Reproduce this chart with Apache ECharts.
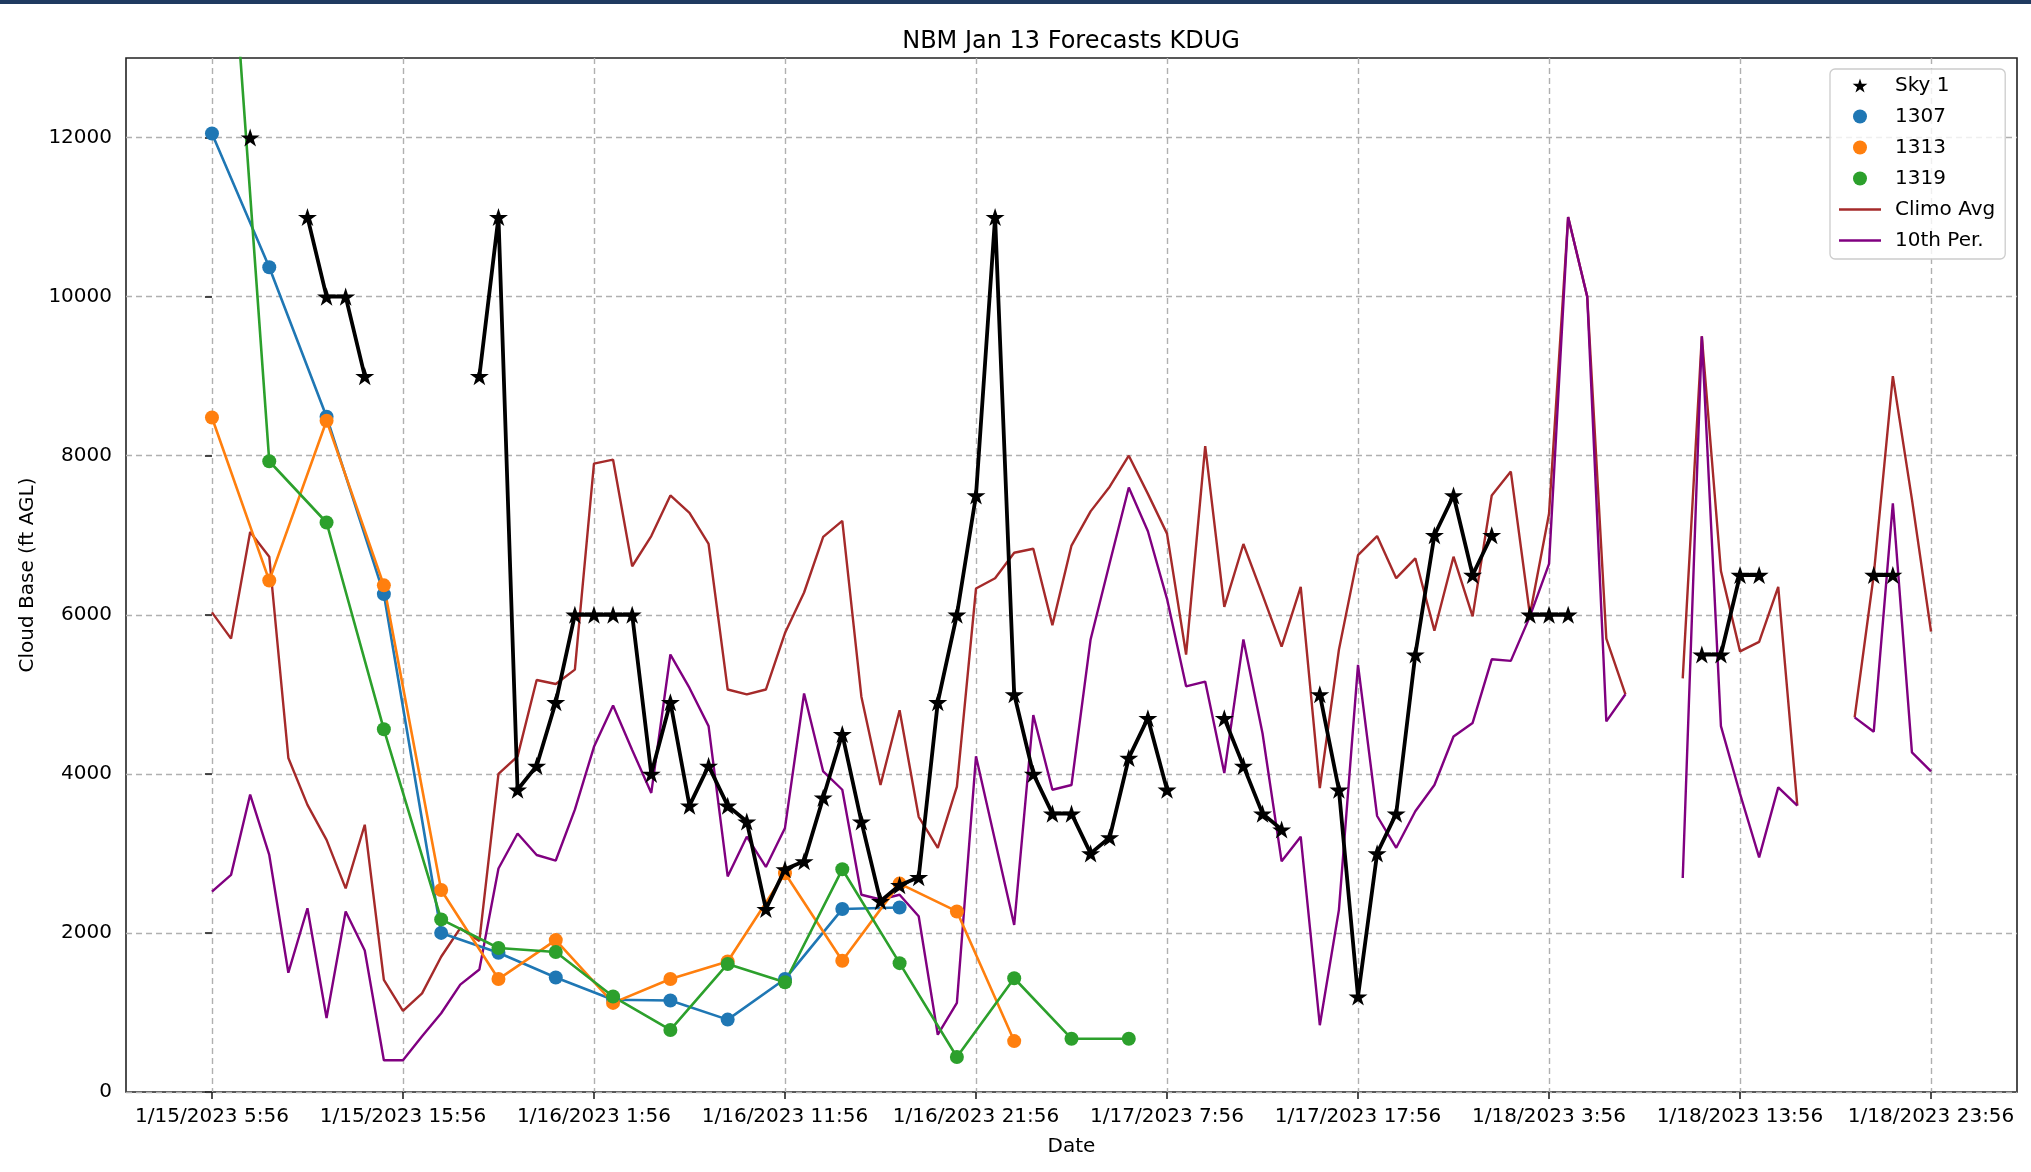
<!DOCTYPE html>
<html>
<head>
<meta charset="utf-8">
<script src="https://cdn.jsdelivr.net/npm/echarts@6/dist/echarts.min.js"></script>
<style>
  html, body { margin: 0; padding: 0; background: #ffffff; }
  #chart { width: 2031px; height: 1172px; }
</style>
</head>
<body>
<div id="chart"></div>
<script>
// Hours after 1/15/2023 5:56 where the date ticks sit, and their labels
const tickHours = [0, 10, 20, 30, 40, 50, 60, 70, 80, 90];
const tickLabels = ['1/15/2023 5:56', '1/15/2023 15:56', '1/16/2023 1:56', '1/16/2023 11:56',
  '1/16/2023 21:56', '1/17/2023 7:56', '1/17/2023 17:56', '1/18/2023 3:56',
  '1/18/2023 13:56', '1/18/2023 23:56'];
const yTicks = [0, 2000, 4000, 6000, 8000, 10000, 12000];

// Observed sky layer 1 base (ft AGL), hourly from hour 0; null = no layer
const sky1 = [
  null, null, 12000, null, null, 11000, 10000, 10000, 9000, null,
  null, null, null, null, 9000, 11000, 3800, 4100, 4900, 6000,
  6000, 6000, 6000, 4000, 4900, 3600, 4100, 3600, 3400, 2300,
  2800, 2900, 3700, 4500, 3400, 2400, 2600, 2700, 4900, 6000,
  7500, 11000, 5000, 4000, 3500, 3500, 3000, 3200, 4200, 4700,
  3800, null, null, 4700, 4100, 3500, 3300, null, 5000, 3800,
  1200, 3000, 3500, 5500, 7000, 7500, 6500, 7000, null, 6000,
  6000, 6000, null, null, null, null, null, null, 5500, 5500,
  6500, 6500, null, null, null, null, null, 6500, 6500, null,
  null
];

// NBM runs, 3-hourly forecasts starting at hour 0
const forecastHours = [0, 3, 6, 9, 12, 15, 18, 21, 24, 27, 30, 33, 36, 39, 42, 45, 48];
const run1307 = [12050, 10370, 8490, 6260, 2000, 1750, 1440, 1160, 1150, 910, 1420, 2300, 2320];
const run1313 = [8480, 6430, 8440, 6370, 2540, 1420, 1910, 1120, 1420, 1640, 2750, 1650, 2620, 2270, 640];
const run1319 = [18000, 7930, 7160, 4560, 2170, 1810, 1760, 1200, 780, 1610, 1380, 2800, 1620, 440, 1430, 670, 670];

// Climatology, hourly from hour 0
const climoAvg = [
  6030, 5700, 7040, 6730, 4200, 3610, 3170, 2560, 3360, 1410,
  1020, 1240, 1700, 2060, 1900, 4000, 4220, 5180, 5130, 5310,
  7900, 7950, 6610, 6990, 7500, 7280, 6890, 5060, 5000, 5060,
  5770, 6280, 6980, 7180, 4970, 3860, 4800, 3460, 3070, 3840,
  6330, 6460, 6780, 6830, 5870, 6870, 7300, 7610, 8000, 7520,
  7020, 5500, 8120, 6100, 6890, 6250, 5600, 6350, 3820, 5560,
  6750, 6990, 6460, 6710, 5800, 6730, 5980, 7500, 7800, 6000,
  7270, 11000, 10000, 5700, 5000, null, null, 5200, 9500, 6550,
  5540, 5660, 6350, 3600, null, null, 4710, 6500, 9000, 7450,
  5790
];
const pct10 = [
  2520, 2730, 3740, 2980, 1500, 2310, 930, 2270, 1780, 400,
  400, 700, 990, 1350, 1540, 2810, 3250, 2980, 2910, 3550,
  4340, 4860, 4300, 3760, 5500, 5080, 4600, 2710, 3210, 2830,
  3320, 5010, 4030, 3800, 2480, 2420, 2480, 2210, 720, 1120,
  4220, 3160, 2100, 4740, 3800, 3860, 5690, 6650, 7600, 7050,
  6200, 5100, 5160, 4010, 5690, 4510, 2900, 3210, 840, 2290,
  5370, 3470, 3070, 3530, 3860, 4470, 4640, 5440, 5420, 5980,
  6640, 11000, 10000, 4660, 5000, null, null, 2690, 9500, 4600,
  3750, 2950, 3830, 3600, null, null, 4710, 4530, 7400, 4270,
  4030
];

const hourly = arr => arr.map((v, i) => [i, v]);
const runPairs = arr => arr.map((v, i) => [forecastHours[i], v]);

const STAR = 'path://M50,0 L61.2,34.5 L97.6,34.5 L68.2,55.9 L79.4,90.5 L50,69.1 L20.6,90.5 L31.8,55.9 L2.4,34.5 L38.8,34.5 Z';
const LINE_ICON = 'path://M0,0 L42,0 L42,2.4 L0,2.4 Z';
const FONT = 'DejaVu Sans';

const chart = echarts.init(document.getElementById('chart'), null, { renderer: 'canvas' });

const runSeries = (name, data, color) => ({
  name, type: 'line', data: runPairs(data),
  symbol: 'circle', symbolSize: 14, showSymbol: true,
  lineStyle: { color, width: 2.6 }, itemStyle: { color },
  emphasis: { disabled: true }, z: 3
});

chart.setOption({
  animation: false,
  backgroundColor: '#ffffff',
  graphic: [{
    type: 'rect', left: 0, top: 0, z: 100,
    shape: { x: 0, y: 0, width: 2031, height: 4 },
    style: { fill: '#1f3a60' }
  }],
  title: {
    text: 'NBM Jan 13 Forecasts KDUG',
    left: 1071, top: 30, textAlign: 'center', padding: 0,
    textStyle: { fontFamily: FONT, fontSize: 24, fontWeight: 'normal', color: '#000' }
  },
  grid: {
    left: 126, top: 58, width: 1891, height: 1034,
    show: true, borderColor: '#222', borderWidth: 1.6, backgroundColor: 'transparent'
  },
  legend: {
    orient: 'vertical', left: 1830, top: 69,
    itemWidth: 42, itemHeight: 14, itemGap: 8,
    padding: [5, 10, 7, 9],
    backgroundColor: 'rgba(255,255,255,0.8)',
    borderColor: '#cccccc', borderWidth: 1.3, borderRadius: 5,
    textStyle: { fontFamily: FONT, fontSize: 20, color: '#000', lineHeight: 23, padding: [0, 0, 0, 9] },
    data: [
      { name: 'Sky 1', icon: STAR },
      { name: '1307', icon: 'circle' },
      { name: '1313', icon: 'circle' },
      { name: '1319', icon: 'circle' },
      { name: 'Climo Avg', icon: LINE_ICON },
      { name: '10th Per.', icon: LINE_ICON }
    ]
  },
  xAxis: {
    type: 'value', min: -4.5, max: 94.5, splitNumber: 10,
    name: 'Date', nameLocation: 'middle', nameGap: 45,
    nameTextStyle: { fontFamily: FONT, fontSize: 20, color: '#000' },
    axisLine: { show: false },
    axisTick: { show: true, length: 7, customValues: tickHours, lineStyle: { color: '#222', width: 1.6 } },
    axisLabel: {
      customValues: tickHours, margin: 15,
      fontFamily: FONT, fontSize: 20, color: '#000',
      formatter: v => { const i = tickHours.indexOf(v); return i >= 0 ? tickLabels[i] : ''; }
    },
    splitLine: { show: true, lineStyle: { color: '#b0b0b0', width: 1.4, type: [6, 4] } }
  },
  yAxis: {
    type: 'value', min: 0, max: 13000, interval: 2000,
    name: 'Cloud Base (ft AGL)', nameLocation: 'middle', nameGap: 82,
    nameTextStyle: { fontFamily: FONT, fontSize: 20, color: '#000' },
    axisLine: { show: false },
    axisTick: { show: true, length: 7, customValues: yTicks, lineStyle: { color: '#222', width: 1.6 } },
    axisLabel: {
      customValues: yTicks, margin: 14, fontFamily: FONT, fontSize: 20, color: '#000',
      formatter: v => String(v)
    },
    splitLine: { show: true, lineStyle: { color: '#b0b0b0', width: 1.4, type: [6, 4] } }
  },
  series: [
    {
      name: 'Climo Avg', type: 'line', data: hourly(climoAvg), symbol: 'none',
      lineStyle: { color: '#a52a2a', width: 2.4 }, itemStyle: { color: '#a52a2a' },
      emphasis: { disabled: true }, z: 1
    },
    {
      name: '10th Per.', type: 'line', data: hourly(pct10), symbol: 'none',
      lineStyle: { color: '#800080', width: 2.4 }, itemStyle: { color: '#800080' },
      emphasis: { disabled: true }, z: 2
    },
    runSeries('1307', run1307, '#1f77b4'),
    runSeries('1313', run1313, '#ff7f0e'),
    runSeries('1319', run1319, '#2ca02c'),
    {
      name: 'Sky 1', type: 'line', data: hourly(sky1),
      symbol: STAR, symbolSize: 19, symbolKeepAspect: true, showSymbol: true,
      lineStyle: { color: '#000', width: 3.8 }, itemStyle: { color: '#000' },
      emphasis: { disabled: true }, z: 4
    }
  ]
});
</script>
</body>
</html>
